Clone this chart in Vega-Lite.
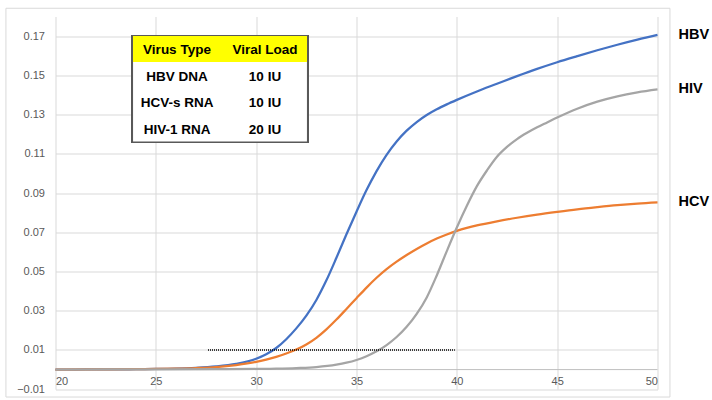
{
  "$schema": "https://vega.github.io/schema/vega-lite/v6.json",
  "autosize": "none",
  "width": 602,
  "height": 372.7,
  "padding": {"left": 55.5, "right": 54.5, "top": 16.5, "bottom": 10.8},
  "background": "white",
  "config": {"view": {"stroke": null}, "font": "Liberation Sans"},
  "datasets": {
    "curves": [
      {"cycle": 20, "virus": "HBV", "value": 0}, {"cycle": 21, "virus": "HBV", "value": 0}, {"cycle": 22, "virus": "HBV", "value": 0.0001}, {"cycle": 23, "virus": "HBV", "value": 0.0001}, {"cycle": 24, "virus": "HBV", "value": 0.0002}, {"cycle": 25, "virus": "HBV", "value": 0.0003}, {"cycle": 26, "virus": "HBV", "value": 0.0005}, {"cycle": 27, "virus": "HBV", "value": 0.0009}, {"cycle": 28, "virus": "HBV", "value": 0.0016}, {"cycle": 29, "virus": "HBV", "value": 0.0029}, {"cycle": 30, "virus": "HBV", "value": 0.0055}, {"cycle": 30.5, "virus": "HBV", "value": 0.0078}, {"cycle": 31, "virus": "HBV", "value": 0.011}, {"cycle": 31.5, "virus": "HBV", "value": 0.0155}, {"cycle": 32, "virus": "HBV", "value": 0.021}, {"cycle": 32.5, "virus": "HBV", "value": 0.0275}, {"cycle": 33, "virus": "HBV", "value": 0.0355}, {"cycle": 33.5, "virus": "HBV", "value": 0.0455}, {"cycle": 34, "virus": "HBV", "value": 0.057}, {"cycle": 34.5, "virus": "HBV", "value": 0.069}, {"cycle": 35, "virus": "HBV", "value": 0.0805}, {"cycle": 35.5, "virus": "HBV", "value": 0.0915}, {"cycle": 36, "virus": "HBV", "value": 0.1012}, {"cycle": 36.5, "virus": "HBV", "value": 0.1095}, {"cycle": 37, "virus": "HBV", "value": 0.1163}, {"cycle": 37.5, "virus": "HBV", "value": 0.1218}, {"cycle": 38, "virus": "HBV", "value": 0.1262}, {"cycle": 38.5, "virus": "HBV", "value": 0.1298}, {"cycle": 39, "virus": "HBV", "value": 0.1327}, {"cycle": 39.5, "virus": "HBV", "value": 0.1352}, {"cycle": 40, "virus": "HBV", "value": 0.1375}, {"cycle": 41, "virus": "HBV", "value": 0.1418}, {"cycle": 42, "virus": "HBV", "value": 0.1457}, {"cycle": 43, "virus": "HBV", "value": 0.1496}, {"cycle": 44, "virus": "HBV", "value": 0.1533}, {"cycle": 45, "virus": "HBV", "value": 0.1567}, {"cycle": 46, "virus": "HBV", "value": 0.1598}, {"cycle": 47, "virus": "HBV", "value": 0.1628}, {"cycle": 48, "virus": "HBV", "value": 0.1656}, {"cycle": 49, "virus": "HBV", "value": 0.1682}, {"cycle": 50, "virus": "HBV", "value": 0.1706},
      {"cycle": 20, "virus": "HCV", "value": 0}, {"cycle": 22, "virus": "HCV", "value": 0.0001}, {"cycle": 24, "virus": "HCV", "value": 0.0002}, {"cycle": 25, "virus": "HCV", "value": 0.0003}, {"cycle": 26, "virus": "HCV", "value": 0.0005}, {"cycle": 27, "virus": "HCV", "value": 0.0008}, {"cycle": 28, "virus": "HCV", "value": 0.0013}, {"cycle": 29, "virus": "HCV", "value": 0.0023}, {"cycle": 30, "virus": "HCV", "value": 0.0039}, {"cycle": 30.5, "virus": "HCV", "value": 0.0051}, {"cycle": 31, "virus": "HCV", "value": 0.0065}, {"cycle": 31.5, "virus": "HCV", "value": 0.0082}, {"cycle": 32, "virus": "HCV", "value": 0.0102}, {"cycle": 32.5, "virus": "HCV", "value": 0.0128}, {"cycle": 33, "virus": "HCV", "value": 0.0162}, {"cycle": 33.5, "virus": "HCV", "value": 0.0205}, {"cycle": 34, "virus": "HCV", "value": 0.0255}, {"cycle": 34.5, "virus": "HCV", "value": 0.0309}, {"cycle": 35, "virus": "HCV", "value": 0.0364}, {"cycle": 35.5, "virus": "HCV", "value": 0.0418}, {"cycle": 36, "virus": "HCV", "value": 0.0468}, {"cycle": 36.5, "virus": "HCV", "value": 0.0512}, {"cycle": 37, "virus": "HCV", "value": 0.055}, {"cycle": 37.5, "virus": "HCV", "value": 0.0584}, {"cycle": 38, "virus": "HCV", "value": 0.0615}, {"cycle": 38.5, "virus": "HCV", "value": 0.0643}, {"cycle": 39, "virus": "HCV", "value": 0.0668}, {"cycle": 39.5, "virus": "HCV", "value": 0.0689}, {"cycle": 40, "virus": "HCV", "value": 0.0707}, {"cycle": 40.5, "virus": "HCV", "value": 0.0722}, {"cycle": 41, "virus": "HCV", "value": 0.0735}, {"cycle": 42, "virus": "HCV", "value": 0.0756}, {"cycle": 43, "virus": "HCV", "value": 0.0774}, {"cycle": 44, "virus": "HCV", "value": 0.079}, {"cycle": 45, "virus": "HCV", "value": 0.0804}, {"cycle": 46, "virus": "HCV", "value": 0.0817}, {"cycle": 47, "virus": "HCV", "value": 0.0828}, {"cycle": 48, "virus": "HCV", "value": 0.0838}, {"cycle": 49, "virus": "HCV", "value": 0.0846}, {"cycle": 50, "virus": "HCV", "value": 0.0852},
      {"cycle": 20, "virus": "HIV", "value": 0}, {"cycle": 25, "virus": "HIV", "value": 0.0001}, {"cycle": 28, "virus": "HIV", "value": 0.0002}, {"cycle": 30, "virus": "HIV", "value": 0.0003}, {"cycle": 31, "virus": "HIV", "value": 0.0005}, {"cycle": 32, "virus": "HIV", "value": 0.0008}, {"cycle": 33, "virus": "HIV", "value": 0.0013}, {"cycle": 34, "virus": "HIV", "value": 0.0025}, {"cycle": 34.5, "virus": "HIV", "value": 0.0035}, {"cycle": 35, "virus": "HIV", "value": 0.0049}, {"cycle": 35.5, "virus": "HIV", "value": 0.0068}, {"cycle": 36, "virus": "HIV", "value": 0.0093}, {"cycle": 36.5, "virus": "HIV", "value": 0.0125}, {"cycle": 37, "virus": "HIV", "value": 0.0166}, {"cycle": 37.5, "virus": "HIV", "value": 0.0218}, {"cycle": 38, "virus": "HIV", "value": 0.0284}, {"cycle": 38.5, "virus": "HIV", "value": 0.0368}, {"cycle": 39, "virus": "HIV", "value": 0.048}, {"cycle": 39.5, "virus": "HIV", "value": 0.0604}, {"cycle": 40, "virus": "HIV", "value": 0.0724}, {"cycle": 40.5, "virus": "HIV", "value": 0.0835}, {"cycle": 41, "virus": "HIV", "value": 0.0935}, {"cycle": 41.5, "virus": "HIV", "value": 0.1015}, {"cycle": 42, "virus": "HIV", "value": 0.1085}, {"cycle": 42.5, "virus": "HIV", "value": 0.1135}, {"cycle": 43, "virus": "HIV", "value": 0.1175}, {"cycle": 43.5, "virus": "HIV", "value": 0.1207}, {"cycle": 44, "virus": "HIV", "value": 0.1235}, {"cycle": 44.5, "virus": "HIV", "value": 0.126}, {"cycle": 45, "virus": "HIV", "value": 0.1285}, {"cycle": 46, "virus": "HIV", "value": 0.133}, {"cycle": 47, "virus": "HIV", "value": 0.1366}, {"cycle": 48, "virus": "HIV", "value": 0.1393}, {"cycle": 49, "virus": "HIV", "value": 0.1413}, {"cycle": 50, "virus": "HIV", "value": 0.1428}
    ],
    "table": [
      {"row": 0, "col": 0, "text": "Virus Type"}, {"row": 0, "col": 1, "text": "Viral Load"},
      {"row": 1, "col": 0, "text": "HBV DNA"}, {"row": 1, "col": 1, "text": "10 IU"},
      {"row": 2, "col": 0, "text": "HCV-s RNA"}, {"row": 2, "col": 1, "text": "10 IU"},
      {"row": 3, "col": 0, "text": "HIV-1 RNA"}, {"row": 3, "col": 1, "text": "20 IU"}
    ],
    "one": [{}]
  },
  "layer": [
    {
      "layer": [
        {
          "data": {"name": "one"},
          "mark": {"type": "rect", "filled": false, "color": "#d9d9d9", "strokeWidth": 1},
          "encoding": {
            "x": {"datum": 17.53, "type": "quantitative"},
            "x2": {"datum": 50.62},
            "y": {"datum": 0.1842, "type": "quantitative"},
            "y2": {"datum": -0.014}
          }
        },
        {
          "data": {"name": "one"},
          "mark": {"type": "rule", "color": "#bfbfbf", "strokeWidth": 1},
          "encoding": {"y": {"datum": 0, "type": "quantitative"}}
        },
        {
          "data": {"name": "curves"},
          "mark": {"type": "line", "strokeWidth": 2.25, "interpolate": "monotone"},
          "encoding": {
            "x": {
              "field": "cycle", "type": "quantitative",
              "scale": {"domain": [20, 50], "nice": false, "zero": false},
              "axis": {
                "values": [20, 25, 30, 35, 40, 45, 50],
                "grid": true, "gridColor": "#d9d9d9", "gridWidth": 1,
                "domain": false, "ticks": false, "title": null,
                "labelPadding": -14, "labelColor": "#595959", "labelFontSize": 11,
                "labelFont": "Liberation Sans"
              }
            },
            "y": {
              "field": "value", "type": "quantitative",
              "scale": {"domain": [-0.01, 0.18], "nice": false, "zero": false},
              "axis": {
                "values": [-0.01, 0.01, 0.03, 0.05, 0.07, 0.09, 0.11, 0.13, 0.15, 0.17],
                "format": ".2f",
                "grid": true, "gridColor": "#d9d9d9", "gridWidth": 1,
                "domain": false, "ticks": false, "title": null,
                "labelPadding": 11, "labelColor": "#595959", "labelFontSize": 11,
                "labelFont": "Liberation Sans"
              }
            },
            "color": {
              "field": "virus", "type": "nominal",
              "scale": {"domain": ["HBV", "HCV", "HIV"], "range": ["#4472C4", "#ED7D31", "#A5A5A5"]},
              "legend": null
            }
          }
        },
        {
          "data": {"name": "one"},
          "mark": {"type": "rule", "color": "black", "strokeWidth": 1.5, "strokeDash": [1, 1]},
          "encoding": {
            "x": {"datum": 27.6, "type": "quantitative"},
            "x2": {"datum": 39.9},
            "y": {"datum": 0.01, "type": "quantitative"}
          }
        },
        {
          "data": {"name": "curves"},
          "transform": [{"filter": "datum.cycle == 50"}],
          "mark": {"type": "text", "align": "left", "baseline": "middle", "dx": 21, "fontSize": 14.5, "fontWeight": "bold", "color": "black", "font": "Liberation Sans"},
          "encoding": {
            "x": {"field": "cycle", "type": "quantitative"},
            "y": {"field": "value", "type": "quantitative"},
            "text": {"field": "virus"}
          }
        }
      ]
    },
    {
      "data": {"name": "table"},
      "layer": [
        {
          "mark": {"type": "rect", "fill": "white", "stroke": "#595959", "strokeWidth": 1.5},
          "encoding": {
            "x": {"datum": -0.508, "type": "quantitative", "scale": {"domain": [-1.3807, 5.4602], "nice": false, "zero": false}, "axis": null},
            "x2": {"datum": 1.4852},
            "y": {"datum": -0.547, "type": "quantitative", "scale": {"domain": [-1.2717, 12.792], "nice": false, "zero": false, "reverse": true}, "axis": null},
            "y2": {"datum": 3.476}
          }
        },
        {
          "mark": {"type": "rect", "fill": "#FFFF00", "stroke": null},
          "encoding": {
            "x": {"datum": -0.5, "type": "quantitative"},
            "x2": {"datum": 1.477},
            "y": {"datum": -0.539, "type": "quantitative"},
            "y2": {"datum": 0.434}
          }
        },
        {
          "mark": {"type": "text", "fontSize": 13.5, "fontWeight": "bold", "color": "black", "baseline": "middle", "align": "center", "font": "Liberation Sans"},
          "encoding": {
            "x": {"field": "col", "type": "quantitative"},
            "y": {"field": "row", "type": "quantitative"},
            "text": {"field": "text"}
          }
        }
      ]
    }
  ],
  "resolve": {"scale": {"x": "independent", "y": "independent"}}
}
